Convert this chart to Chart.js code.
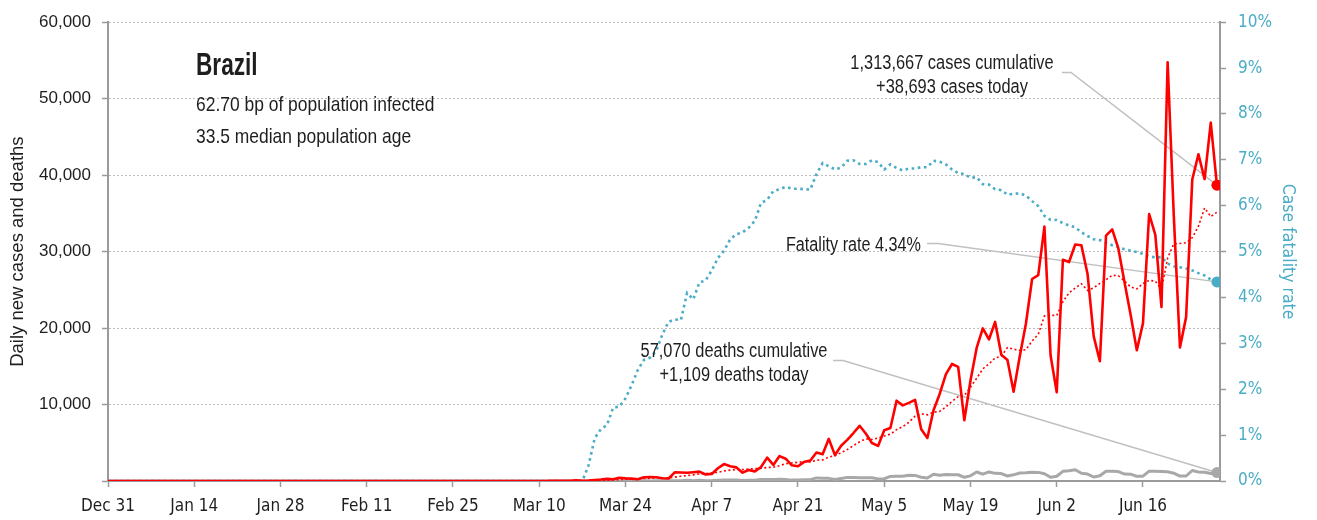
<!DOCTYPE html>
<html>
<head>
<meta charset="utf-8">
<title>Brazil - daily cases, deaths and fatality rate</title>
<script src="https://cdn.jsdelivr.net/npm/chart.js@4.4.1/dist/chart.umd.min.js"></script>
<style>
  html, body { margin: 0; padding: 0; background: #fff; }
  #wrap { width: 1317px; height: 520px; }
</style>
</head>
<body>
<div id="wrap"><canvas id="chart" width="1317" height="520"></canvas></div>
<script>
// day index 0 = Dec 31, one value per day up to Jun 28 (index 180)
const tickDays = [0, 14, 28, 42, 56, 70, 84, 98, 112, 126, 140, 154, 168];
const tickLabels = ['Dec 31', 'Jan 14', 'Jan 28', 'Feb 11', 'Feb 25', 'Mar 10', 'Mar 24',
  'Apr 7', 'Apr 21', 'May 5', 'May 19', 'Jun 2', 'Jun 16'];

const dailyCases = [
  0, 0, 0, 0, 0, 0, 0, 0, 0, 0,
  0, 0, 0, 0, 0, 0, 0, 0, 0, 0,
  0, 0, 0, 0, 0, 0, 0, 0, 0, 0,
  0, 0, 0, 0, 0, 0, 0, 0, 0, 0,
  0, 0, 0, 0, 0, 0, 0, 0, 0, 0,
  0, 0, 0, 0, 0, 0, 0, 1, 0, 0,
  0, 1, 0, 0, 0, 1, 5, 5, 6, 6,
  0, 9, 18, 25, 21, 23, 79, 34, 57, 137,
  193, 283, 224, 418, 345, 310, 232, 482, 502, 487,
  352, 323, 1138, 1119, 1074, 1146, 1222, 852, 926, 1661,
  2210, 1930, 1781, 1089, 1442, 1261, 1832, 3058, 2105, 3257,
  2917, 2055, 1927, 2498, 2678, 3735, 3503, 5514, 3379, 4613,
  5385, 6276, 7218, 6209, 4970, 4588, 6633, 6935, 10503, 9888,
  10222, 10611, 6760, 5632, 9258, 11385, 13944, 15305, 14919, 7938,
  13140, 17408, 19951, 18508, 20803, 16508, 15813, 11687, 16324, 20599,
  26417, 26928, 33274, 16409, 11598, 28936, 28633, 30925, 30830, 27075,
  18912, 15654, 32091, 32913, 30412, 25982, 21704, 17110, 20647, 34918,
  32188, 22765, 54771, 34666, 17459, 21432, 39436, 42725, 39483, 46860,
  38693
];

const casesAvg7 = [
  0, 0, 0, 0, 0, 0, 0, 0, 0, 0,
  0, 0, 0, 0, 0, 0, 0, 0, 0, 0,
  0, 0, 0, 0, 0, 0, 0, 0, 0, 0,
  0, 0, 0, 0, 0, 0, 0, 0, 0, 0,
  0, 0, 0, 0, 0, 0, 0, 0, 0, 0,
  0, 0, 0, 0, 0, 0, 0, 0, 0, 0,
  0, 0, 0, 0, 0, 0, 1, 2, 2, 3,
  3, 5, 7, 10, 12, 15, 25, 30, 37, 54,
  78, 115, 144, 192, 237, 273, 286, 328, 359, 397,
  387, 384, 502, 629, 714, 806, 911, 982, 1068, 1143,
  1299, 1421, 1512, 1493, 1577, 1625, 1649, 1770, 1795, 2006,
  2267, 2355, 2450, 2545, 2491, 2724, 2759, 3130, 3319, 3703,
  4115, 4629, 5127, 5513, 5436, 5608, 5897, 6118, 6722, 7104,
  7677, 8483, 8793, 8650, 8982, 9108, 9687, 10414, 11029, 11197,
  12270, 13434, 14658, 15310, 16095, 16322, 17447, 17240, 17085, 17177,
  18307, 19182, 21577, 21663, 21650, 23452, 24599, 25243, 25801, 24915,
  25273, 25852, 26303, 26914, 26841, 26148, 25381, 25124, 25837, 26241,
  26137, 25045, 29158, 31009, 31059, 31171, 31817, 33322, 35710, 34580,
  35155
];

const dailyDeaths = [
  0, 0, 0, 0, 0, 0, 0, 0, 0, 0,
  0, 0, 0, 0, 0, 0, 0, 0, 0, 0,
  0, 0, 0, 0, 0, 0, 0, 0, 0, 0,
  0, 0, 0, 0, 0, 0, 0, 0, 0, 0,
  0, 0, 0, 0, 0, 0, 0, 0, 0, 0,
  0, 0, 0, 0, 0, 0, 0, 0, 0, 0,
  0, 0, 0, 0, 0, 0, 0, 0, 0, 0,
  0, 0, 0, 0, 0, 0, 0, 0, 1, 3,
  3, 4, 7, 7, 9, 12, 13, 18, 15, 19,
  25, 23, 42, 39, 84, 35, 86, 41, 67, 114,
  133, 141, 115, 68, 99, 105, 204, 204, 188, 217,
  206, 115, 125, 154, 165, 407, 357, 346, 189, 338,
  474, 449, 435, 428, 421, 275, 296, 600, 615, 610,
  751, 730, 496, 396, 881, 749, 844, 824, 816, 485,
  674, 1179, 888, 1188, 1001, 965, 653, 807, 1039, 1086,
  1156, 1124, 956, 480, 623, 1262, 1349, 1473, 1005, 904,
  525, 679, 1272, 1274, 1239, 909, 892, 612, 627, 1282,
  1269, 1238, 1206, 1022, 641, 654, 1374, 1185, 1141, 990,
  1109
];

// case fatality rate, percent
const fatalityRate = [
  0, 0, 0, 0, 0, 0, 0, 0, 0, 0,
  0, 0, 0, 0, 0, 0, 0, 0, 0, 0,
  0, 0, 0, 0, 0, 0, 0, 0, 0, 0,
  0, 0, 0, 0, 0, 0, 0, 0, 0, 0,
  0, 0, 0, 0, 0, 0, 0, 0, 0, 0,
  0, 0, 0, 0, 0, 0, 0, 0, 0, 0,
  0, 0, 0, 0, 0, 0, 0, 0, 0, 0,
  0, 0, 0, 0, 0, 0, 0, 0, 0.34, 0.93,
  1.13, 1.22, 1.60, 1.62, 1.80, 2.09, 2.42, 2.64, 2.69, 2.84,
  3.20, 3.47, 3.52, 3.51, 4.10, 3.96, 4.33, 4.37, 4.59, 4.86,
  5.02, 5.27, 5.38, 5.42, 5.52, 5.67, 6.06, 6.13, 6.32, 6.36,
  6.41, 6.37, 6.37, 6.36, 6.35, 6.69, 6.93, 6.86, 6.79, 6.83,
  6.98, 6.99, 6.91, 6.91, 6.99, 6.95, 6.79, 6.90, 6.82, 6.77,
  6.81, 6.81, 6.84, 6.84, 6.98, 6.96, 6.90, 6.79, 6.71, 6.69,
  6.61, 6.62, 6.47, 6.46, 6.36, 6.34, 6.24, 6.26, 6.27, 6.22,
  6.10, 5.99, 5.78, 5.69, 5.69, 5.62, 5.57, 5.53, 5.42, 5.34,
  5.27, 5.25, 5.19, 5.14, 5.10, 5.05, 5.02, 4.99, 4.95, 4.90,
  4.87, 4.88, 4.74, 4.68, 4.66, 4.63, 4.59, 4.53, 4.48, 4.39,
  4.34
];

const countryName = 'Brazil';
const infoLines = ['62.70 bp of population infected', '33.5 median population age'];
const casesNote = ['1,313,667 cases cumulative', '+38,693 cases today'];
const fatalityNote = 'Fatality rate 4.34%';
const deathsNote = ['57,070 deaths cumulative', '+1,109 deaths today'];

const CONDENSED = "'DejaVu Sans Condensed', 'Liberation Sans Narrow', sans-serif";
const SANS = "'Liberation Sans', Arial, sans-serif";
const RED = '#ff0000';
const BLUE = '#4bacc6';
const GREY = '#a8a8a8';
const AXIS = '#9a9a9a';
const INK = '#1e1e1e';

const lastIndex = dailyCases.length - 1;
const toPoints = (arr) => arr.map((v, i) => ({ x: i, y: v }));
const endDot = (ctx) => (ctx.dataIndex === lastIndex ? 5.5 : 0);

function leader(ctx, x0, y0, x1, x2, y2) {
  ctx.beginPath();
  ctx.moveTo(x0, y0);
  ctx.lineTo(x1, y0);
  ctx.lineTo(x2, y2);
  ctx.stroke();
}

// narrow text: Liberation Sans squeezed sideways, like a condensed face
function narrowText(ctx, text, x, y, font, align, squeeze) {
  ctx.save();
  ctx.translate(x, y);
  ctx.scale(squeeze, 1);
  ctx.font = font;
  ctx.textAlign = align;
  ctx.textBaseline = 'alphabetic';
  ctx.fillText(text, 0, 0);
  ctx.restore();
}

const notesPlugin = {
  id: 'notes',
  beforeDatasetsDraw(chart) {
    const { ctx, scales: { x, y, y2 } } = chart;
    const px = x.getPixelForValue(lastIndex);
    ctx.save();
    ctx.strokeStyle = '#c0c0c0';
    ctx.lineWidth = 1.5;
    leader(ctx, 1062, 72.5, 1071, px, y.getPixelForValue(dailyCases[lastIndex]));
    leader(ctx, 927, 243.5, 938, px, y2.getPixelForValue(fatalityRate[lastIndex]));
    leader(ctx, 833, 360.5, 843, px, y.getPixelForValue(dailyDeaths[lastIndex]));
    ctx.restore();
  },
  afterDraw(chart) {
    const { ctx } = chart;
    ctx.save();
    ctx.fillStyle = INK;
    narrowText(ctx, countryName, 196, 75, `bold 31px ${SANS}`, 'left', 0.73);
    narrowText(ctx, infoLines[0], 196, 111, `21px ${SANS}`, 'left', 0.83);
    narrowText(ctx, infoLines[1], 196, 143, `21px ${SANS}`, 'left', 0.83);

    narrowText(ctx, casesNote[0], 952, 69, `20px ${SANS}`, 'center', 0.82);
    narrowText(ctx, casesNote[1], 952, 93, `20px ${SANS}`, 'center', 0.82);
    narrowText(ctx, deathsNote[0], 734, 357, `20px ${SANS}`, 'center', 0.82);
    narrowText(ctx, deathsNote[1], 734, 381, `20px ${SANS}`, 'center', 0.82);
    narrowText(ctx, fatalityNote, 921, 251, `20px ${SANS}`, 'right', 0.81);
    ctx.restore();
  }
};

Chart.defaults.font.family = CONDENSED;
Chart.defaults.color = INK;

new Chart(document.getElementById('chart'), {
  type: 'line',
  data: {
    datasets: [
      {
        label: 'Daily new cases',
        data: toPoints(dailyCases),
        yAxisID: 'y',
        borderColor: RED,
        backgroundColor: RED,
        borderWidth: 2.6,
        borderJoinStyle: 'round',
        pointRadius: endDot,
        pointHoverRadius: 0,
        pointBorderWidth: 0,
        tension: 0,
      },
      {
        label: '7-day average',
        data: toPoints(casesAvg7),
        yAxisID: 'y',
        borderColor: RED,
        borderWidth: 1.6,
        borderDash: [2, 2.5],
        pointRadius: 0,
        tension: 0,
      },
      {
        label: 'Case fatality rate',
        data: toPoints(fatalityRate),
        yAxisID: 'y2',
        borderColor: BLUE,
        backgroundColor: BLUE,
        borderWidth: 2.6,
        borderDash: [2.6, 3.6],
        pointRadius: endDot,
        pointHoverRadius: 0,
        pointBorderWidth: 0,
        tension: 0,
      },
      {
        label: 'Daily deaths',
        data: toPoints(dailyDeaths),
        yAxisID: 'y',
        borderColor: GREY,
        backgroundColor: GREY,
        borderWidth: 3,
        borderJoinStyle: 'round',
        pointRadius: endDot,
        pointHoverRadius: 0,
        pointBorderWidth: 0,
        tension: 0,
      },
    ],
  },
  options: {
    animation: false,
    responsive: false,
    devicePixelRatio: 1,
    layout: { padding: { top: 18, left: 0, right: 0, bottom: 0 } },
    plugins: {
      legend: { display: false },
      tooltip: { enabled: false },
    },
    scales: {
      x: {
        type: 'linear',
        min: 0,
        max: 180.5,
        afterBuildTicks: (scale) => { scale.ticks = tickDays.map((v) => ({ value: v })); },
        afterFit: (scale) => { scale.height = 39; },
        ticks: {
          autoSkip: false,
          maxRotation: 0,
          padding: 9,
          font: { size: 17 },
          color: INK,
          callback: (value) => tickLabels[tickDays.indexOf(value)] || '',
        },
        grid: { drawOnChartArea: false, drawTicks: true, tickLength: 6, tickColor: AXIS, tickWidth: 1.5 },
        border: { display: true, color: AXIS, width: 2 },
      },
      y: {
        position: 'left',
        min: 0,
        max: 60000,
        afterFit: (scale) => { scale.width = 108; },
        ticks: {
          stepSize: 10000,
          padding: 11,
          font: { family: SANS, size: 17 },
          color: INK,
          callback: (value) => (value === 0 ? '' : value.toLocaleString('en-US')),
        },
        title: {
          display: true,
          text: 'Daily new cases and deaths',
          font: { family: SANS, size: 18.5 },
          color: INK,
          padding: { top: 7, bottom: 0 },
        },
        grid: { color: '#bdbdbd', lineWidth: 1, tickLength: 6, tickColor: AXIS, tickWidth: 1.5 },
        border: { display: true, color: AXIS, width: 2, dash: [2, 2] },
      },
      y2: {
        position: 'right',
        min: 0,
        max: 10,
        afterFit: (scale) => { scale.width = 97; },
        ticks: {
          stepSize: 1,
          padding: 12,
          font: { size: 17 },
          color: BLUE,
          callback: (value) => value + '%',
        },
        title: {
          display: true,
          text: 'Case fatality rate',
          font: { size: 17.5 },
          color: BLUE,
          padding: { top: 19, bottom: 0 },
        },
        grid: { drawOnChartArea: false, tickLength: 6, tickColor: AXIS, tickWidth: 1.5 },
        border: { display: true, color: AXIS, width: 2 },
      },
    },
  },
  plugins: [notesPlugin],
});
</script>
</body>
</html>
